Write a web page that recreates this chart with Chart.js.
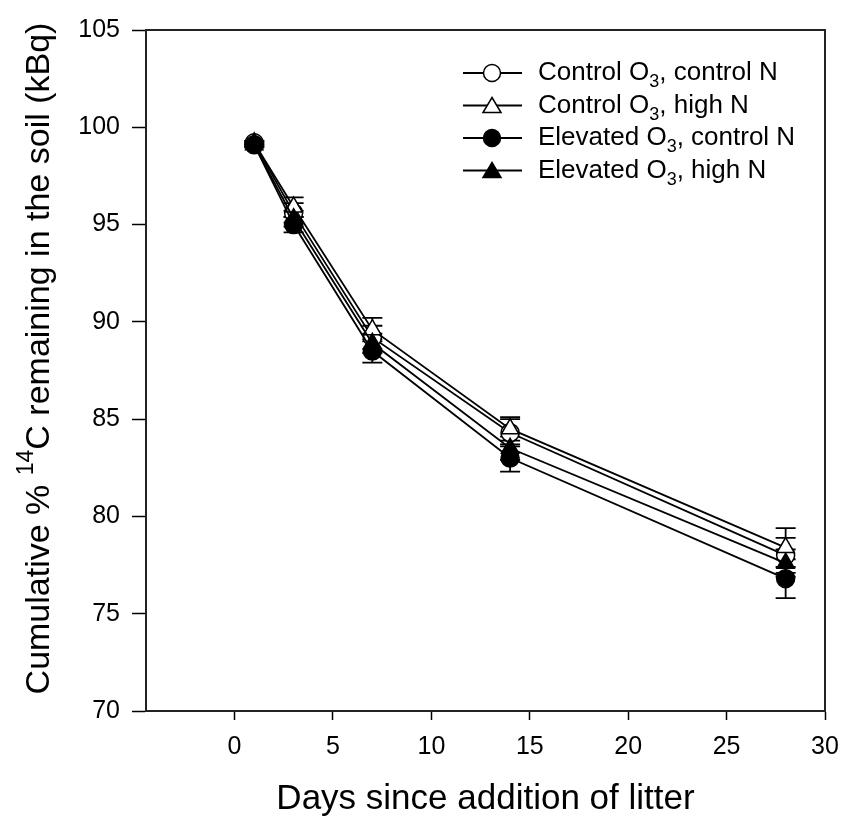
<!DOCTYPE html>
<html>
<head>
<meta charset="utf-8">
<script src="https://cdn.jsdelivr.net/npm/chart.js@4.4.0/dist/chart.umd.min.js"></script>
<style>
  html, body { margin: 0; padding: 0; background: #fff; }
  #wrap { width: 844px; height: 819px; }
</style>
</head>
<body>
<div id="wrap"><canvas id="decayChart" width="844" height="819"></canvas></div>
<script>
// values
var days = [1, 3, 7, 14, 28];
var ctrlO3CtrlN = [99.2, 95.6, 89.2, 84.3, 78.0];
var ctrlO3HighN = [99.2, 95.9, 89.6, 84.5, 78.4];
var elevO3CtrlN = [99.1, 95.0, 88.5, 83.0, 76.8];
var elevO3HighN = [99.1, 95.3, 88.9, 83.5, 77.6];
var ctrlO3CtrlNErr = [0.1, 0.5, 0.6, 0.7, 0.9];
var ctrlO3HighNErr = [0.1, 0.5, 0.6, 0.6, 1.0];
var elevO3CtrlNErr = [0.1, 0.4, 0.6, 0.7, 1.0];
var elevO3HighNErr = [0.1, 0.4, 0.5, 0.6, 0.7];
var xTicks = [0, 5, 10, 15, 20, 25, 30];
var yTicks = [70, 75, 80, 85, 90, 95, 100, 105];

var FONT = "'Liberation Sans', Arial, sans-serif";

function toPoints(vals) {
    return days.map(function (d, i) { return { x: d, y: vals[i] }; });
}

function makeSet(label, vals, errs, style, filled, order) {
    return {
        label: label,
        data: toPoints(vals),
        errors: errs,
        order: order,
        borderColor: "#000",
        borderWidth: 1.8,
        backgroundColor: filled ? "#000" : "#fff",
        pointBackgroundColor: filled ? "#000" : "#fff",
        pointBorderColor: "#000",
        pointBorderWidth: 1.5,
        pointStyle: style,
        pointRadius: style == "triangle" ? 10 : 9,
        tension: 0,
        fill: false
    };
}

// draws text pieces, sub/superscripts included
function richWidth(ctx, parts, size) {
    var w = 0;
    parts.forEach(function (p) {
        ctx.font = (p.sub || p.sup ? Math.round(size * 0.68) : size) + "px " + FONT;
        w += ctx.measureText(p.t).width;
    });
    return w;
}
function drawRich(ctx, parts, x, y, size) {
    parts.forEach(function (p) {
        var s = p.sub || p.sup ? Math.round(size * 0.68) : size;
        var dy = p.sub ? size * 0.35 : (p.sup ? -size * 0.38 : 0);
        ctx.font = s + "px " + FONT;
        ctx.fillText(p.t, x, y + dy);
        x += ctx.measureText(p.t).width;
    });
}

var legendItems = [
    [{ t: "Control O" }, { t: "3", sub: true }, { t: ", control N" }],
    [{ t: "Control O" }, { t: "3", sub: true }, { t: ", high N" }],
    [{ t: "Elevated O" }, { t: "3", sub: true }, { t: ", control N" }],
    [{ t: "Elevated O" }, { t: "3", sub: true }, { t: ", high N" }]
];

var extras = {
    id: "extras",
    beforeDatasetsDraw: function (chart) {
        var ctx = chart.ctx;
        var xs = chart.scales.x, ys = chart.scales.y;
        ctx.save();
        // error bars
        ctx.strokeStyle = "#000";
        ctx.lineWidth = 1.8;
        chart.data.datasets.forEach(function (ds) {
            ds.data.forEach(function (p, i) {
                var px = xs.getPixelForValue(p.x);
                var top = ys.getPixelForValue(p.y + ds.errors[i]);
                var bot = ys.getPixelForValue(p.y - ds.errors[i]);
                ctx.beginPath();
                ctx.moveTo(px, top); ctx.lineTo(px, bot);
                ctx.moveTo(px - 10, top); ctx.lineTo(px + 10, top);
                ctx.moveTo(px - 10, bot); ctx.lineTo(px + 10, bot);
                ctx.stroke();
            });
        });
        ctx.restore();
    },
    afterDraw: function (chart) {
        var ctx = chart.ctx;
        var a = chart.chartArea;
        ctx.save();
        // frame top and right
        ctx.lineWidth = 2;
        ctx.strokeStyle = "#222";
        ctx.beginPath();
        ctx.moveTo(a.left, a.top); ctx.lineTo(a.right, a.top); ctx.lineTo(a.right, a.bottom);
        ctx.stroke();

        ctx.fillStyle = "#000";
        ctx.textBaseline = "middle";
        ctx.textAlign = "left";
        // legend
        chart.data.datasets.forEach(function (ds, i) {
            var y = 73 + i * 32.5;
            ctx.strokeStyle = "#000";
            ctx.lineWidth = 1.8;
            ctx.beginPath();
            ctx.moveTo(463, y); ctx.lineTo(522, y);
            ctx.stroke();
            ctx.lineWidth = 1.5;
            ctx.fillStyle = ds.pointBackgroundColor;
            ctx.beginPath();
            if (ds.pointStyle == "circle") {
                ctx.arc(492, y, 8.5, 0, Math.PI * 2);
            } else {
                ctx.moveTo(492, y - 8); ctx.lineTo(501, y + 7); ctx.lineTo(483, y + 7); ctx.closePath();
            }
            ctx.fill();
            ctx.stroke();
            ctx.fillStyle = "#000";
            drawRich(ctx, legendItems[i], 538, y, 26);
        });
        // x title
        ctx.font = "35px " + FONT;
        ctx.textAlign = "center";
        ctx.fillText("Days since addition of litter", (a.left + a.right) / 2, 799);
        // y title
        var yParts = [{ t: "Cumulative % " }, { t: "14", sup: true }, { t: "C remaining in the soil (kBq)" }];
        var w = richWidth(ctx, yParts, 34);
        ctx.translate(40, (a.top + a.bottom) / 2 - 12);
        ctx.rotate(-Math.PI / 2);
        ctx.textAlign = "left";
        drawRich(ctx, yParts, -w / 2, 0, 34);
        ctx.restore();
    }
};

new Chart("decayChart", {
    type: "line",
    data: {
        datasets: [
            makeSet("Control O3, control N", ctrlO3CtrlN, ctrlO3CtrlNErr, "circle", false, 3),
            makeSet("Control O3, high N", ctrlO3HighN, ctrlO3HighNErr, "triangle", false, 2),
            makeSet("Elevated O3, control N", elevO3CtrlN, elevO3CtrlNErr, "circle", true, 0),
            makeSet("Elevated O3, high N", elevO3HighN, elevO3HighNErr, "triangle", true, 1)
        ]
    },
    options: {
        responsive: false,
        animation: false,
        layout: { padding: { left: 0, right: 19, top: 30, bottom: 0 } },
        plugins: {
            legend: { display: false },
            tooltip: { enabled: false }
        },
        scales: {
            x: {
                type: "linear",
                min: -4.5,
                max: 30,
                afterBuildTicks: function (scale) {
                    scale.ticks = xTicks.map(function (v) { return { value: v }; });
                },
                afterFit: function (scale) {
                    scale.height = 108;
                    scale.paddingRight = 0;
                    scale.paddingLeft = 0;
                },
                grid: { drawOnChartArea: false, drawTicks: true, tickLength: 9, tickWidth: 1.5, tickColor: "#000" },
                border: { display: true, color: "#222", width: 2 },
                ticks: { color: "#000", padding: 12, maxRotation: 0, font: { family: FONT, size: 25 } }
            },
            y: {
                min: 70,
                max: 105,
                afterBuildTicks: function (scale) {
                    scale.ticks = yTicks.map(function (v) { return { value: v }; });
                },
                afterFit: function (scale) {
                    scale.width = 146;
                    scale.paddingTop = 0;
                    scale.paddingBottom = 0;
                },
                grid: { drawOnChartArea: false, drawTicks: true, tickLength: 14, tickWidth: 1.5, tickColor: "#000" },
                border: { display: true, color: "#222", width: 2 },
                ticks: { color: "#000", padding: 12, font: { family: FONT, size: 25 } }
            }
        }
    },
    plugins: [extras]
});
</script>
</body>
</html>
